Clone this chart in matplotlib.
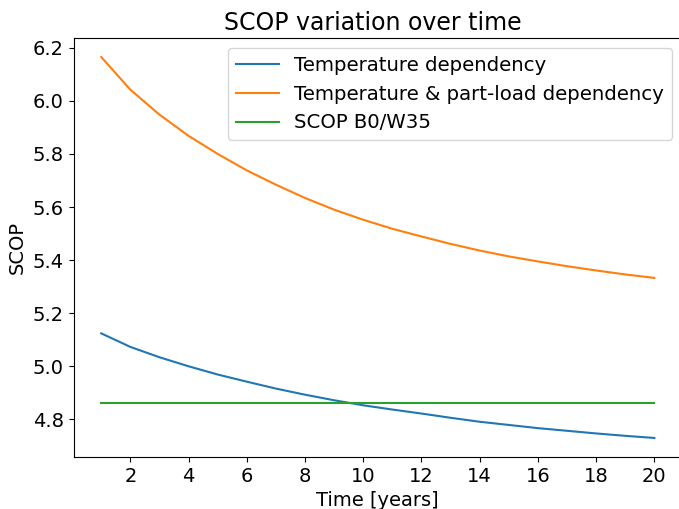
import numpy as np
import matplotlib
matplotlib.use('Agg')
import matplotlib.pyplot as plt

# SCOP over the years
years = np.arange(1, 21)
scop_temp = [5.124, 5.073, 5.034, 5.000, 4.969, 4.942, 4.916, 4.893, 4.872, 4.853,
             4.837, 4.822, 4.806, 4.791, 4.779, 4.767, 4.757, 4.747, 4.738, 4.730]
scop_temp_pl = [6.165, 6.042, 5.948, 5.868, 5.800, 5.738, 5.684, 5.634, 5.590, 5.552,
                5.518, 5.489, 5.461, 5.436, 5.414, 5.395, 5.377, 5.361, 5.346, 5.333]
scop_b0w35 = 4.86
xticks = list(range(2, 21, 2))

fs = 14

fig = plt.figure(figsize=(6.79, 5.09), dpi=100)
ax = fig.add_axes([73.6/679, 52/509, (682-73.6)/679, (457-38)/509])

ax.plot(years, scop_temp, label='Temperature dependency')
ax.plot(years, scop_temp_pl, label='Temperature & part-load dependency')
ax.plot(years, [scop_b0w35]*len(years), label='SCOP B0/W35')

ax.set_xticks(xticks)
ax.set_title('SCOP variation over time', fontsize=17, x=0.491)
ax.set_xlabel('Time [years]', fontsize=fs)
ax.set_ylabel('SCOP', fontsize=fs)
ax.tick_params(labelsize=fs)
ax.legend(loc='upper right', fontsize=14.2, handlelength=2.15)

plt.savefig('out.png', dpi=100)
